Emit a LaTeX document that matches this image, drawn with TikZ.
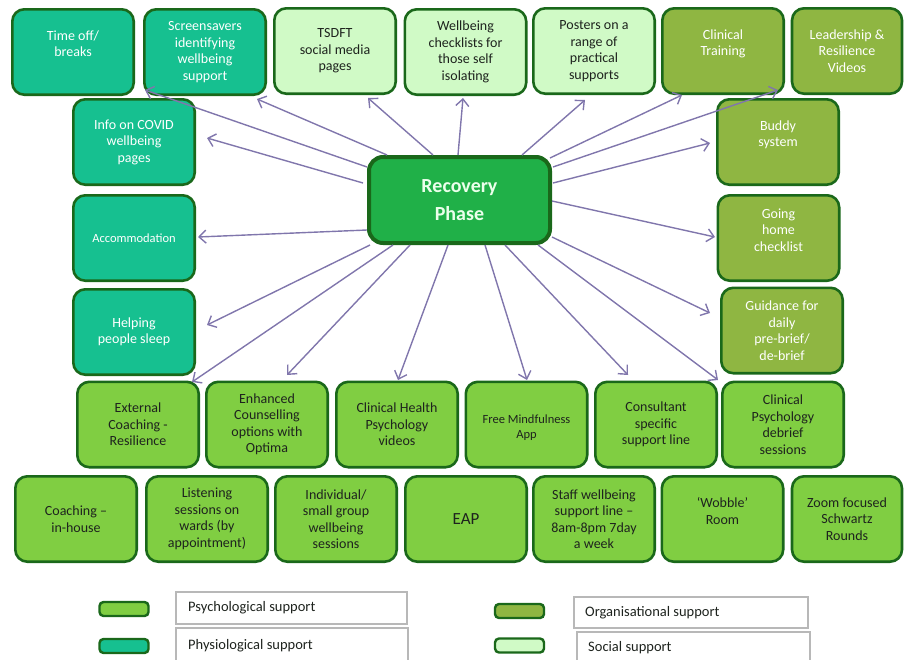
\documentclass[tikz,border=0pt]{standalone}
\usepackage{fontspec}
\setmainfont{Carlito}
\usetikzlibrary{arrows.meta,calc}
\definecolor{tealc}{RGB}{22,192,144}
\definecolor{socc}{RGB}{208,250,198}
\definecolor{orgc}{RGB}{143,182,66}
\definecolor{psyc}{RGB}{128,206,66}
\definecolor{cenc}{RGB}{32,176,72}
\definecolor{bord}{RGB}{26,104,26}
\definecolor{arrc}{RGB}{128,118,172}
\definecolor{txtc}{RGB}{30,35,30}
\begin{document}
\begin{tikzpicture}[x=1pt,y=-1pt,
  box/.style={draw=bord, line width=2.6pt, rounded corners=12pt, minimum width=121.4pt, minimum height=85.4pt, align=center, inner sep=2pt, font=\fontsize{14}{16.5}\selectfont},
  phys/.style={box, fill=tealc, text=white},
  soc/.style={box, fill=socc, text=txtc},
  org/.style={box, fill=orgc, text=white},
  psy/.style={box, fill=psyc, text=txtc},
  small/.style={font=\fontsize{12.5}{15}\selectfont},
  arr/.style={draw=arrc, line width=1.4pt, -{Straight Barb[length=7pt,width=13pt,line width=1.4pt]}},
  swatch/.style={draw=bord, line width=2.4pt, rounded corners=4pt, minimum width=49pt, minimum height=14pt, inner sep=0pt},
  legbox/.style={draw=black!28, line width=1.4pt},
  legtxt/.style={anchor=west, text=txtc, font=\fontsize{14.5}{17}\selectfont, inner sep=0pt}
]
\useasboundingbox (0,0) rectangle (904,659);

% top row
\node[phys] (timeoff) at (73,52) {Time off/\\breaks\\\mbox{}};
\node[phys] (screen) at (205,52) {Screensavers\\identifying\\wellbeing\\support};
\node[soc] (tsdft) at (335,51) {TSDFT\\social media\\pages};
\node[soc] (check) at (465.5,52) {Wellbeing\\checklists for\\those self\\isolating};
\node[soc] (posters) at (594,51) {Posters on a\\range of\\practical\\supports};
\node[org] (ctrain) at (723,51) {Clinical\\Training\\\mbox{}};
\node[org, minimum width=110pt] (leader) at (847,51) {Leadership \&\\Resilience\\Videos};

% left column
\node[phys] (info) at (134,142) {Info on COVID\\wellbeing\\pages};
\node[phys, small] (accom) at (134,238) {Accommodation};
\node[phys] (sleep) at (134,332) {Helping\\people sleep};

% right column
\node[org] (buddy) at (778,142) {Buddy\\system\\\mbox{}};
\node[org] (home) at (778.5,238) {Going\\home\\checklist\\\mbox{}};
\node[org] (guide) at (782,330.5) {Guidance for\\daily\\pre-brief/\\de-brief};

% centre
\node[draw=bord, fill=cenc, line width=4pt, rounded corners=14pt, minimum width=181pt, minimum height=86pt, align=center, text=white!92!green, font=\fontsize{20}{28}\selectfont\bfseries] (rp) at (459.5,200) {Recovery\\Phase};

% row 3
\node[psy] (ext) at (138,424.5) {External\\Coaching -\\Resilience};
\node[psy] (enh) at (267,424.5) {Enhanced\\Counselling\\options with\\Optima};
\node[psy] (chp) at (397,424.5) {Clinical Health\\Psychology\\videos};
\node[psy, small] (mind) at (526.5,424.5) {\mbox{}\\Free Mindfulness\\App};
\node[psy] (cons) at (656,424.5) {Consultant\\specific\\support line};
\node[psy] (debrief) at (783,424.5) {Clinical\\Psychology\\debrief\\sessions};

% row 4
\node[psy] (coach) at (76,519) {Coaching --\\in-house};
\node[psy] (listen) at (207,519) {Listening\\sessions on\\wards (by\\appointment)};
\node[psy] (indiv) at (336,519) {Individual/\\small group\\wellbeing\\sessions};
\node[psy, font=\fontsize{17}{20}\selectfont] (eap) at (466,519) {EAP};
\node[psy] (staff) at (594,519) {Staff wellbeing\\support line --\\8am-8pm 7day\\a week};
\node[psy] (wobble) at (722.5,519) {‘Wobble’\\Room\\\mbox{}};
\node[psy, minimum width=110pt] (zoom) at (847,519) {Zoom focused\\Schwartz\\Rounds};

% arrow tips
\coordinate (t1) at (145,90);
\coordinate (t2) at (257,99);
\coordinate (t3) at (207,138);
\coordinate (t4) at (368,98);
\coordinate (t5) at (463,98);
\coordinate (t6) at (585,100);
\coordinate (t7) at (682,95);
\coordinate (t8) at (778,90);
\coordinate (t9) at (710,143);
\coordinate (t10) at (198,237);
\coordinate (t11) at (207,325);
\coordinate (t12) at (192,382);
\coordinate (t13) at (287,375);
\coordinate (t14) at (398,380);
\coordinate (t15) at (527,380);
\coordinate (t16) at (628,375);
\coordinate (t17) at (718,380);
\coordinate (t18) at (715,237);
\coordinate (t19) at (710,313);

\draw[arr] ($(rp.center)+(-92.5,-33)$) -- (t1);
\draw[arr] ($(rp.center)+(-72.5,-45)$) -- (t2);
\draw[arr] ($(rp.center)+(-96.5,-17)$) -- (t3);
\draw[arr] ($(rp.center)+(-26.5,-45)$) -- (t4);
\draw[arr] ($(rp.center)+(-1.5,-45)$) -- (t5);
\draw[arr] ($(rp.center)+(62.5,-45)$) -- (t6);
\draw[arr] ($(rp.center)+(90.5,-42)$) -- (t7);
\draw[arr] ($(rp.center)+(93.5,-33)$) -- (t8);
\draw[arr] ($(rp.center)+(93.5,-17)$) -- (t9);
\draw[arr] ($(rp.center)+(-92.5,30)$) -- (t10);
\draw[arr] ($(rp.center)+(-89.5,45)$) -- (t11);
\draw[arr] ($(rp.center)+(-66.5,45)$) -- (t12);
\draw[arr] ($(rp.center)+(-49.5,45)$) -- (t13);
\draw[arr] ($(rp.center)+(-11.5,45)$) -- (t14);
\draw[arr] ($(rp.center)+(25.5,45)$) -- (t15);
\draw[arr] ($(rp.center)+(45.5,45)$) -- (t16);
\draw[arr] ($(rp.center)+(78.5,45)$) -- (t17);
\draw[arr] ($(rp.center)+(92.5,1)$) -- (t18);
\draw[arr] ($(rp.center)+(92.5,37)$) -- (t19);

% legend
\node[swatch, fill=psyc] (sw1) at (124,609) {};
\node[swatch, fill=tealc] (sw2) at (124,646) {};
\node[swatch, fill=orgc] (sw3) at (519.5,611) {};
\node[swatch, fill=socc] (sw4) at (519.5,645.5) {};
\draw[legbox] (176,592) rectangle (407,624);
\draw[legbox] (176,628) rectangle (408,665);
\draw[legbox] (574,597) rectangle (808,628);
\draw[legbox] (577,632) rectangle (810,665);
\node[legtxt] (l1) at (188,608) {Psychological support};
\node[legtxt] (l2) at (188,646) {Physiological support};
\node[legtxt] (l3) at (585,613) {Organisational support};
\node[legtxt] (l4) at (588,648) {Social support};
\end{tikzpicture}
\end{document}
